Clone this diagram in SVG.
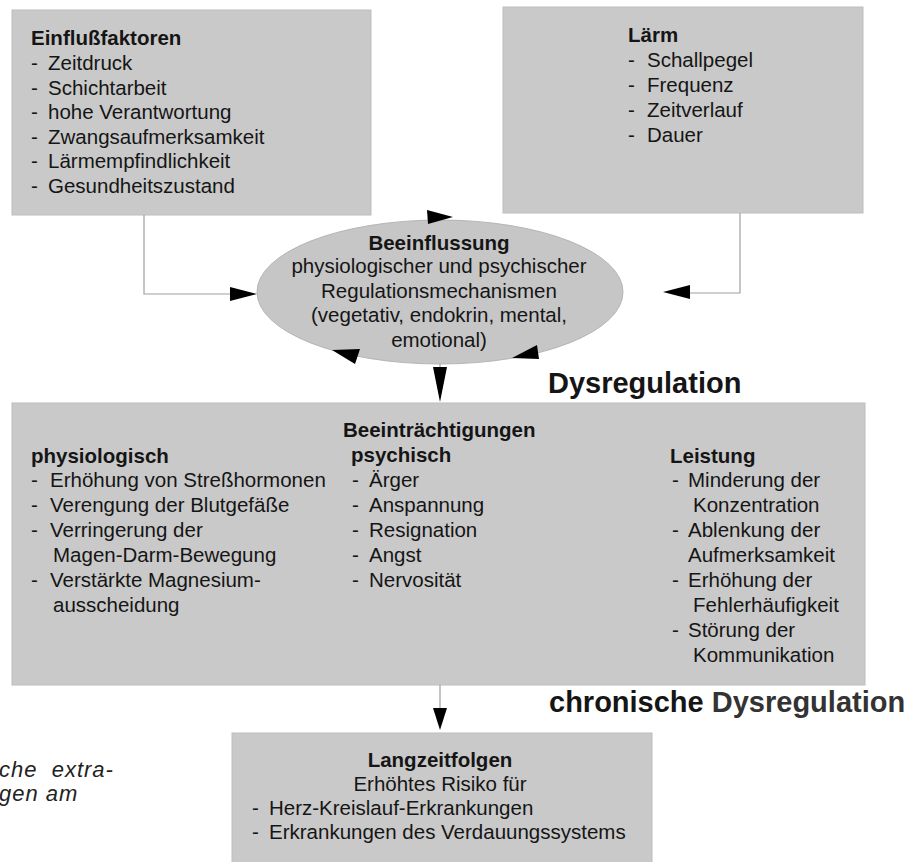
<svg xmlns="http://www.w3.org/2000/svg" width="914" height="862" viewBox="0 0 914 862">
<style>
text{font-family:"Liberation Sans",Arial,Helvetica,sans-serif;font-size:20.5px;fill:#151515}
.b{font-weight:bold}
.c{text-anchor:middle}
.box{fill:#c9c9c9;stroke:#bdbdbd;stroke-width:1}
.big{font-size:29px;font-weight:bold}
.it{font-style:italic;font-size:22px;letter-spacing:1px;fill:#222}
.ln{fill:none;stroke:#a0a0a0;stroke-width:1.2}
.ah{fill:#000}
</style>
<rect width="914" height="862" fill="#fff"/>
<g id="einflussfaktoren">
<rect class="box" x="12" y="10" width="359" height="205"/>
<text class="b" x="31" y="45">Einflußfaktoren</text>
<text x="31" y="70">-</text><text x="48" y="70">Zeitdruck</text>
<text x="31" y="94.5">-</text><text x="48" y="94.5">Schichtarbeit</text>
<text x="31" y="119">-</text><text x="48" y="119">hohe Verantwortung</text>
<text x="31" y="143.5">-</text><text x="48" y="143.5">Zwangsaufmerksamkeit</text>
<text x="31" y="168">-</text><text x="48" y="168">Lärmempfindlichkeit</text>
<text x="31" y="192.5">-</text><text x="48" y="192.5">Gesundheitszustand</text>
</g>
<g id="laerm">
<rect class="box" x="503" y="7" width="360" height="206"/>
<text class="b" x="628" y="42">Lärm</text>
<text x="628" y="67">-</text><text x="647" y="67">Schallpegel</text>
<text x="628" y="92">-</text><text x="647" y="92">Frequenz</text>
<text x="628" y="117">-</text><text x="647" y="117">Zeitverlauf</text>
<text x="628" y="142">-</text><text x="647" y="142">Dauer</text>
</g>
<g id="beeinflussung">
<ellipse cx="440" cy="292" rx="183" ry="72" fill="#c6c6c6" stroke="#b4b4b4" stroke-width="1"/>
<text class="b c" x="439" y="250">Beeinflussung</text>
<text class="c" x="439" y="273">physiologischer und psychischer</text>
<text class="c" x="439" y="298">Regulationsmechanismen</text>
<text class="c" x="439" y="322">(vegetativ, endokrin, mental,</text>
<text class="c" x="439" y="347">emotional)</text>
</g>
<g id="dysregulation-label">
<text class="big" x="548" y="393">Dysregulation</text>
</g>
<g id="beeintraechtigungen">
<rect class="box" x="12" y="403" width="853" height="282"/>
<text class="b" x="343" y="437">Beeinträchtigungen</text>
<text class="b" x="31" y="463">physiologisch</text>
<text x="31" y="487">-</text><text x="50" y="487">Erhöhung von Streßhormonen</text>
<text x="31" y="512">-</text><text x="50" y="512">Verengung der Blutgefäße</text>
<text x="31" y="537">-</text><text x="50" y="537">Verringerung der</text>
<text x="53" y="562">Magen-Darm-Bewegung</text>
<text x="31" y="587">-</text><text x="50" y="587">Verstärkte Magnesium-</text>
<text x="53" y="612">ausscheidung</text>
<text class="b" x="351" y="462">psychisch</text>
<text x="352" y="487">-</text><text x="369" y="487">Ärger</text>
<text x="352" y="512">-</text><text x="369" y="512">Anspannung</text>
<text x="352" y="537">-</text><text x="369" y="537">Resignation</text>
<text x="352" y="562">-</text><text x="369" y="562">Angst</text>
<text x="352" y="587">-</text><text x="369" y="587">Nervosität</text>
<text class="b" x="670" y="463">Leistung</text>
<text x="672" y="487">-</text><text x="688" y="487">Minderung der</text>
<text x="693" y="512">Konzentration</text>
<text x="672" y="537">-</text><text x="688" y="537">Ablenkung der</text>
<text x="688" y="562">Aufmerksamkeit</text>
<text x="672" y="587">-</text><text x="688" y="587">Erhöhung der</text>
<text x="693" y="612">Fehlerhäufigkeit</text>
<text x="672" y="637">-</text><text x="688" y="637">Störung der</text>
<text x="693" y="662">Kommunikation</text>
</g>
<g id="chronische-label">
<text class="big" x="549" y="712">chronische <tspan fill="#333">Dysregulation</tspan></text>
</g>
<g id="langzeitfolgen">
<rect class="box" x="232" y="733" width="420" height="135"/>
<text class="b c" x="440" y="767">Langzeitfolgen</text>
<text class="c" x="440" y="791">Erhöhtes Risiko für</text>
<text x="252" y="815">-</text><text x="269" y="815">Herz-Kreislauf-Erkrankungen</text>
<text x="252" y="839">-</text><text x="269" y="839">Erkrankungen des Verdauungssystems</text>
</g>
<g id="fragment">
<text class="it" x="-1" y="777" xml:space="preserve">che  extra-</text>
<text class="it" x="-1" y="801">gen am</text>
</g>
<g id="connectors">
<polyline class="ln" points="144,215 144,294 232,294"/>
<polygon class="ah" points="257,294 230,287 230,301"/>
<polyline class="ln" points="740,213 740,293 688,293"/>
<polygon class="ah" points="663,292 690,285 690,299"/>
<polygon class="ah" points="453,217 427,210 428,224"/>
<polygon class="ah" points="332,350 360,349 355,364"/>
<polygon class="ah" points="512,358 537,345 539,359"/>
<line class="ln" x1="440" y1="364" x2="440" y2="368"/>
<polygon class="ah" points="433,367 447,367 440,402"/>
<line class="ln" x1="440" y1="685" x2="440" y2="710"/>
<polygon class="ah" points="433,708 447,708 440,730"/>
</g>
</svg>
